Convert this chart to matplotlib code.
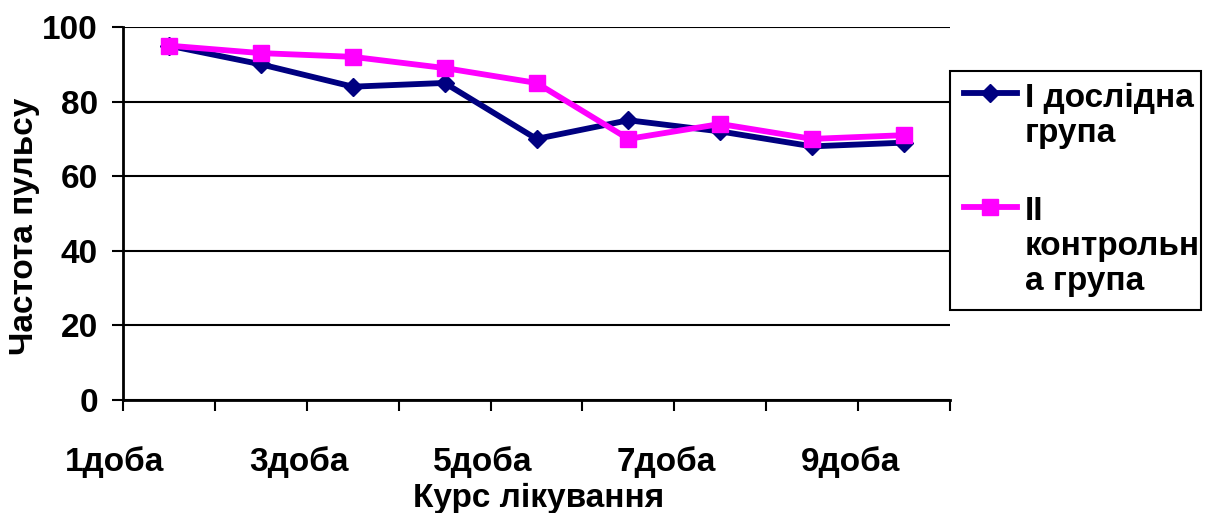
import matplotlib.pyplot as plt
from matplotlib.lines import Line2D
from matplotlib.patches import Rectangle
from matplotlib.transforms import ScaledTranslation

plt.rcParams['font.family'] = ['Liberation Sans', 'DejaVu Sans']
plt.rcParams['font.weight'] = 'bold'

days = ["1доба", "2доба", "3доба", "4доба", "5доба", "6доба", "7доба", "8доба", "9доба"]
group1 = [95, 90, 84, 85, 70, 75, 72, 68, 69]
group2 = [95, 93, 92, 89, 85, 70, 74, 70, 71]
label1 = "I дослідна\nгрупа"
label2 = "II\nконтрольн\nа група"

navy = "#000080"
magenta = "#FF00FF"

W, H = 1211, 513
fig = plt.figure(figsize=(W / 100, H / 100), dpi=100)
ax = fig.add_axes([123 / W, 113 / H, 827 / W, 373 / H])


def fx(px):
    return px / W


def fy(py):
    # pixel row counted from the top edge
    return 1 - py / H


x = list(range(len(days)))
ax.plot(x, group1, color=navy, lw=4.2, marker="D", ms=9, zorder=3)
ax.plot(x, group2, color=magenta, lw=4.2, marker="s", ms=11, zorder=4)

# category boundaries get the tick marks, every other day gets a label
ax.xaxis.remove_overlapping_locs = False
ax.set_xticks([i - 0.5 for i in range(len(days) + 1)])
ax.set_xticklabels([])
ax.set_xticks([i - 0.5 for i in x[::2]], minor=True)
ax.set_xticklabels(days[::2], minor=True)
ax.tick_params(axis="x", which="major", direction="out", length=8, width=1.5)
ax.tick_params(axis="x", which="minor", length=0, pad=33, labelsize=24)
shift = ScaledTranslation(-0.08, 0, fig.dpi_scale_trans)
for lbl in ax.get_xticklabels(minor=True):
    lbl.set_transform(lbl.get_transform() + shift)

ax.set_xlim(-0.5, len(days) - 0.5)
ax.set_ylim(0, 100)

ax.set_yticks([0, 20, 40, 60, 80, 100])
ax.tick_params(axis="y", direction="out", length=8, width=1.5, pad=10, labelsize=24)
ax.yaxis.grid(True, color="black", lw=1.5)
ax.set_axisbelow(True)

for side in ["top", "right"]:
    ax.spines[side].set_visible(False)
for side in ["left", "bottom"]:
    ax.spines[side].set_linewidth(2)

fig.text(fx(25), fy(226), "Частота пульсу", rotation=90, ha="center", va="center",
         fontsize=24, fontweight="bold")
fig.text(fx(539), fy(498), "Курс лікування", ha="center", va="center",
         fontsize=24, fontweight="bold")

# legend box with the handle next to the first line of each label
fig.add_artist(Rectangle((fx(950), fy(310)), fx(1201) - fx(950), fy(71) - fy(310),
                         transform=fig.transFigure, fill=False, edgecolor="black", lw=1.5))
entries = [
    (label1, navy, "D", 9, 93, [107, 142]),
    (label2, magenta, "s", 11, 207, [220, 255, 290]),
]
for text, color, marker, ms, hy, baselines in entries:
    fig.add_artist(Line2D([fx(964), fx(990), fx(1017)], [fy(hy)] * 3,
                          transform=fig.transFigure, color=color, lw=4.2,
                          marker=marker, ms=ms, markevery=[1]))
    for line, by in zip(text.split("\n"), baselines):
        fig.text(fx(1025), fy(by), line, ha="left", va="baseline",
                 fontsize=24, fontweight="bold")

fig.savefig("out.png", dpi=100)
